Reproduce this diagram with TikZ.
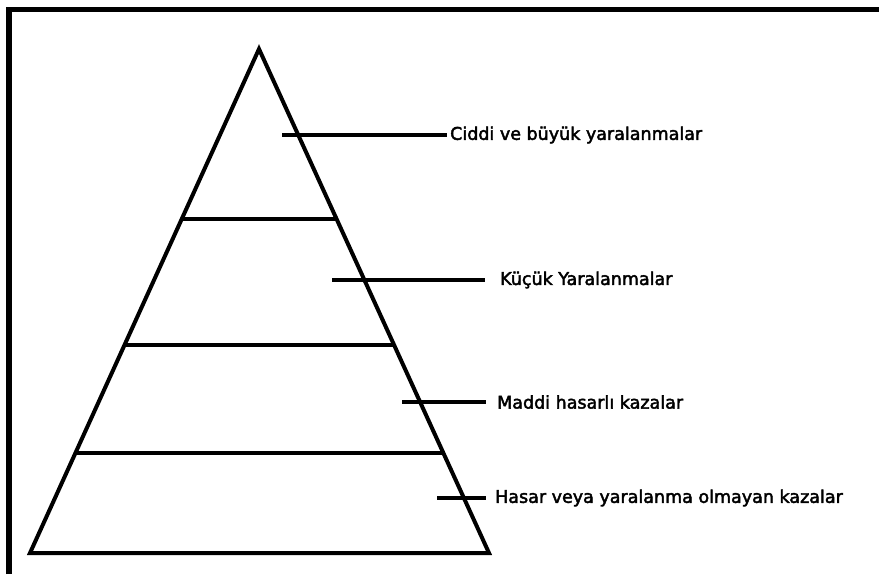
\documentclass[tikz,border=0pt]{standalone}
\usepackage{fontspec}
\setmainfont{DejaVu Sans}
\newfontfamily\lblfont{DejaVu Sans}[FakeBold=2.5]
\begin{document}
\begin{tikzpicture}[x=1pt,y=-1pt,
  edge/.style={line width=4pt},
  frameline/.style={line width=5.5pt},
  lbl/.style={anchor=west,inner sep=0pt,font=\fontsize{17.5}{20}\lblfont}]
\useasboundingbox (0,0) rectangle (879,574);
% frame (top and left only)
\coordinate (fa) at (9,574);
\coordinate (fb) at (9,9.5);
\coordinate (fc) at (879,9.5);
\draw[frameline] (fa) -- (fb) -- (fc);
% pyramid
\coordinate (apex) at (259,49);
\coordinate (bl) at (30,553);
\coordinate (br) at (489,553);
\draw[edge] (bl) -- (apex) -- (br) -- cycle;
% level lines
\coordinate (a1) at (181.8,219);
\coordinate (b1) at (336.6,219);
\coordinate (a2) at (125.6,345);
\coordinate (b2) at (394.1,345);
\coordinate (a3) at (75.4,453);
\coordinate (b3) at (443.4,453);
\draw[edge] (a1) -- (b1);
\draw[edge] (a2) -- (b2);
\draw[edge] (a3) -- (b3);
% labels
\node[lbl] (t1) at (450,135) {Ciddi ve büyük yaralanmalar};
\node[lbl] (t2) at (500,280) {Küçük Yaralanmalar};
\node[lbl] (t3) at (497,402) {Maddi hasarlı kazalar};
\node[lbl] (t4) at (495,498) {Hasar veya yaralanma olmayan kazalar};
\coordinate (s1) at (282,135);
\coordinate (s2) at (332,280);
\coordinate (s3) at (402,402);
\coordinate (s4) at (437,498);
\draw[edge,shorten >=3pt] (s1) -- (t1.west);
\draw[edge,shorten >=15pt] (s2) -- (t2.west);
\draw[edge,shorten >=11pt] (s3) -- (t3.west);
\draw[edge,shorten >=9pt] (s4) -- (t4.west);
\end{tikzpicture}
\end{document}
